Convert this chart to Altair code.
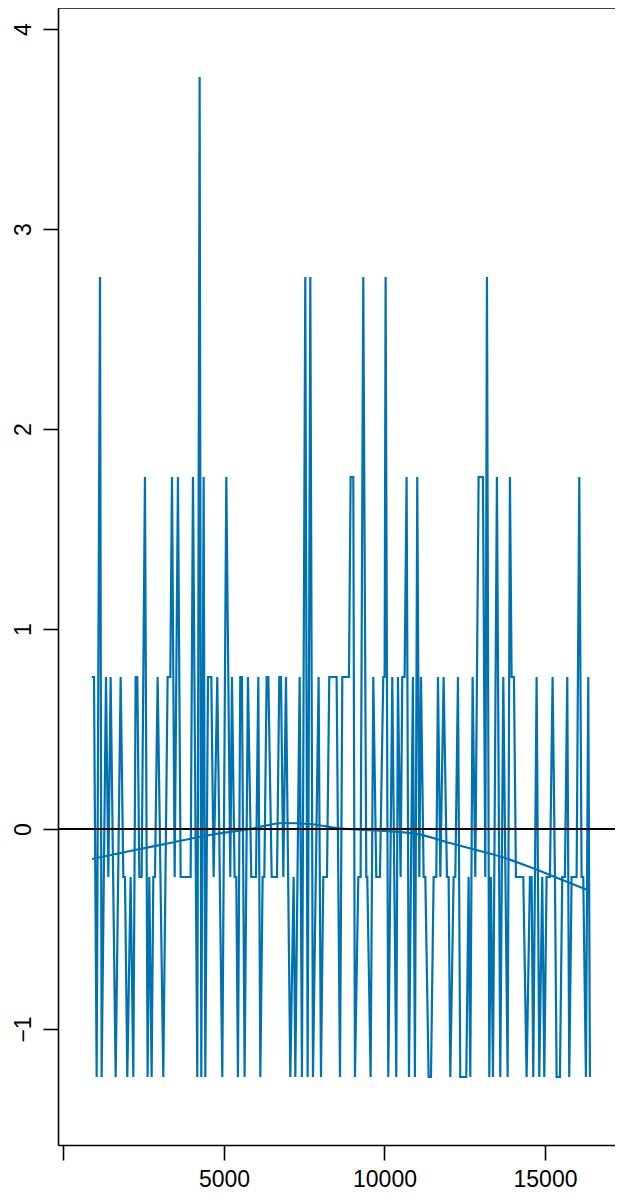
import altair as alt
import pandas as pd

# ---- data ----
obs_x = [880, 950, 1033, 1137, 1189, 1324, 1397, 1469, 1625, 1781, 1864, 1916, 1988, 2092, 2175,
         2248, 2300, 2362, 2435, 2538, 2621, 2673, 2746, 2798, 2850, 2933, 3109, 3244,
         3328, 3380, 3463, 3566, 3649, 3961, 4034, 4168, 4241, 4293, 4366, 4418, 4501, 4605,
         4677, 4791, 4947, 5072, 5196, 5248, 5331, 5383, 5435, 5507, 5559, 5642, 5746, 5850,
         5997, 6069, 6132, 6204, 6256, 6329, 6381, 6485, 6651, 6723, 6775, 6848, 6931, 7066,
         7170, 7222, 7357, 7429, 7533, 7606, 7689, 7772, 7948, 8021, 8093, 8208, 8280,
         8509, 8613, 8686, 8893, 8945, 9028, 9080, 9184, 9256, 9339, 9433, 9464, 9568, 9651,
         9744, 9858, 9962, 10004, 10035, 10118, 10243, 10367, 10419, 10502, 10554, 10627,
         10689, 10762, 10886, 10948, 11021,
         11085, 11137, 11220, 11272, 11375, 11448, 11531, 11614, 11666, 11739, 11842, 11946,
         11998, 12050, 12154, 12206, 12289, 12361, 12548, 12621, 12673, 12745, 12829, 12932,
         13067, 13140, 13192, 13265, 13316, 13379, 13503, 13607,
         13701, 13836, 13908, 13960, 14033, 14095, 14324, 14427, 14531, 14583, 14635, 14739,
         14822, 14915, 14978, 15050, 15154, 15237, 15310, 15362, 15465, 15538, 15621, 15694,
         15756, 15829, 15985, 16068, 16140, 16192, 16275, 16348, 16400]

obs_y = [0.76, 0.76, -1.24, 2.76, -1.24, 0.76, -0.24, 0.76, -1.24, 0.76, -0.24, -0.24, -1.24, -0.24, -1.24,
         0.76, 0.76, -0.24, -0.24, 1.76, -1.24, -0.24, -1.24, -0.24, -0.24, 0.76, -1.24, 0.76,
         0.76, 1.76, -0.24, 1.76, -0.24, -0.24, 1.76, -1.24, 3.76, -1.24, 1.76, -1.24, 0.76, 0.76,
         -0.24, 0.76, -1.24, 1.76, -0.24, 0.76, -0.24, -0.24, -1.24, 0.76, 0.76, -1.24, 0.76, -0.24,
         -0.24, 0.76, -1.24, -0.24, -0.24, 0.76, 0.76, -0.24, -0.24, 0.76, 0.76, -0.24, 0.76, -1.24,
         -0.24, -1.24, 0.76, -1.24, 2.76, -1.24, 2.76, -1.24, 0.76, -1.24, -0.24, -0.24, 0.76,
         0.76, -1.24, 0.76, 0.76, 1.76, 1.76, -1.24, -0.24, -0.24, 2.76, -0.24, -0.24, -1.24, 0.76,
         -0.24, -0.24, 0.76, 0.76, 2.76, -1.24, 0.76, -1.24, 0.76, -0.24, 0.76, 0.76,
         1.76, -1.24, 0.76, -1.24, 1.76,
         -0.24, 0.76, -0.24, -0.24, -1.24, -1.24, -0.24, -0.24, 0.76, -0.24, 0.76, -0.24,
         -0.24, -1.24, -0.24, -0.24, 0.76, -1.24, -1.24, -0.24, -1.24, 0.76, -0.24, 1.76,
         1.76, -0.24, 2.76, -1.24, -0.24, -1.24, 1.76, -1.24,
         0.76, -1.24, 1.76, 0.76, 0.76, -0.24, -0.24, -1.24, -0.24, -0.24, -1.24, 0.76,
         -1.24, -0.24, -1.24, -0.24, -0.24, 0.76, -0.24, -1.24, -1.24, -0.24, -0.24, 0.76,
         -1.24, -0.24, -0.24, 1.76, -0.24, -0.24, -1.24, 0.76, -1.24]

smooth_x = [888, 2071, 3317, 4563, 5809, 6869, 7678, 8488, 9983, 11074, 12039, 12974, 13659,
            14531, 15466, 16400]
smooth_y = [-0.15, -0.11, -0.07, -0.03, 0.0, 0.03, 0.025, 0.005, -0.01, -0.027, -0.07, -0.11,
            -0.14, -0.19, -0.25, -0.31]

x_ticks = [0, 5000, 10000, 15000]
y_ticks = [-1, 0, 1, 2, 3, 4]
zero_level = [0]

# ---- styling ----
BLUE = "#0072B2"
FONT = "Liberation Sans"
X_DOMAIN = [-171, 17181]
Y_DOMAIN = [-1.58, 4.105]
W, H = 557, 1137

obs = pd.DataFrame({"x": obs_x, "y": obs_y})
smooth = pd.DataFrame({"x": smooth_x, "y": smooth_y})
zero = pd.DataFrame({"y": zero_level})

xs = alt.Scale(domain=X_DOMAIN, nice=False, zero=False)
ys = alt.Scale(domain=Y_DOMAIN, nice=False, zero=False)

common_axis = dict(title=None, grid=False, tickSize=15, tickColor="black", tickWidth=1.6,
                   domainColor="black", domainWidth=1.6, labelColor="black",
                   labelFont=FONT, labelFontSize=23, labelOverlap=False, labelFlush=False)

x_axis = alt.Axis(values=x_ticks, format="d",
                  labelExpr="datum.value == 0 ? '' : datum.label",
                  labelBaseline="top", labelPadding=8, **common_axis)
y_axis = alt.Axis(values=y_ticks, labelAngle=270, labelAlign="center",
                  labelBaseline="alphabetic", labelPadding=13, **common_axis)

line = alt.Chart(obs).mark_line(color=BLUE, strokeWidth=2.2, clip=True).encode(
    x=alt.X("x:Q", scale=xs, axis=x_axis),
    y=alt.Y("y:Q", scale=ys, axis=y_axis),
)

smooth_line = alt.Chart(smooth).mark_line(color=BLUE, strokeWidth=2.2, clip=True,
                                          interpolate="monotone").encode(
    x=alt.X("x:Q", scale=xs, axis=x_axis),
    y=alt.Y("y:Q", scale=ys, axis=y_axis),
)

zero_rule = alt.Chart(zero).mark_rule(color="black", strokeWidth=1.8).encode(
    y=alt.Y("y:Q", scale=ys, axis=y_axis),
)

top_border = alt.Chart(zero).mark_rule(color="black", strokeWidth=1.6).encode(
    x=alt.value(0), x2=alt.value(W), y=alt.value(0),
)

chart = alt.layer(line, smooth_line, zero_rule, top_border).properties(
    width=W, height=H,
    padding={"left": 50, "top": 0, "right": 0, "bottom": 48},
    autosize=alt.AutoSizeParams(type="none"),
    background="white",
).configure_view(stroke=None)

chart.save("out.html", embed_options={"renderer": "svg", "actions": False})
